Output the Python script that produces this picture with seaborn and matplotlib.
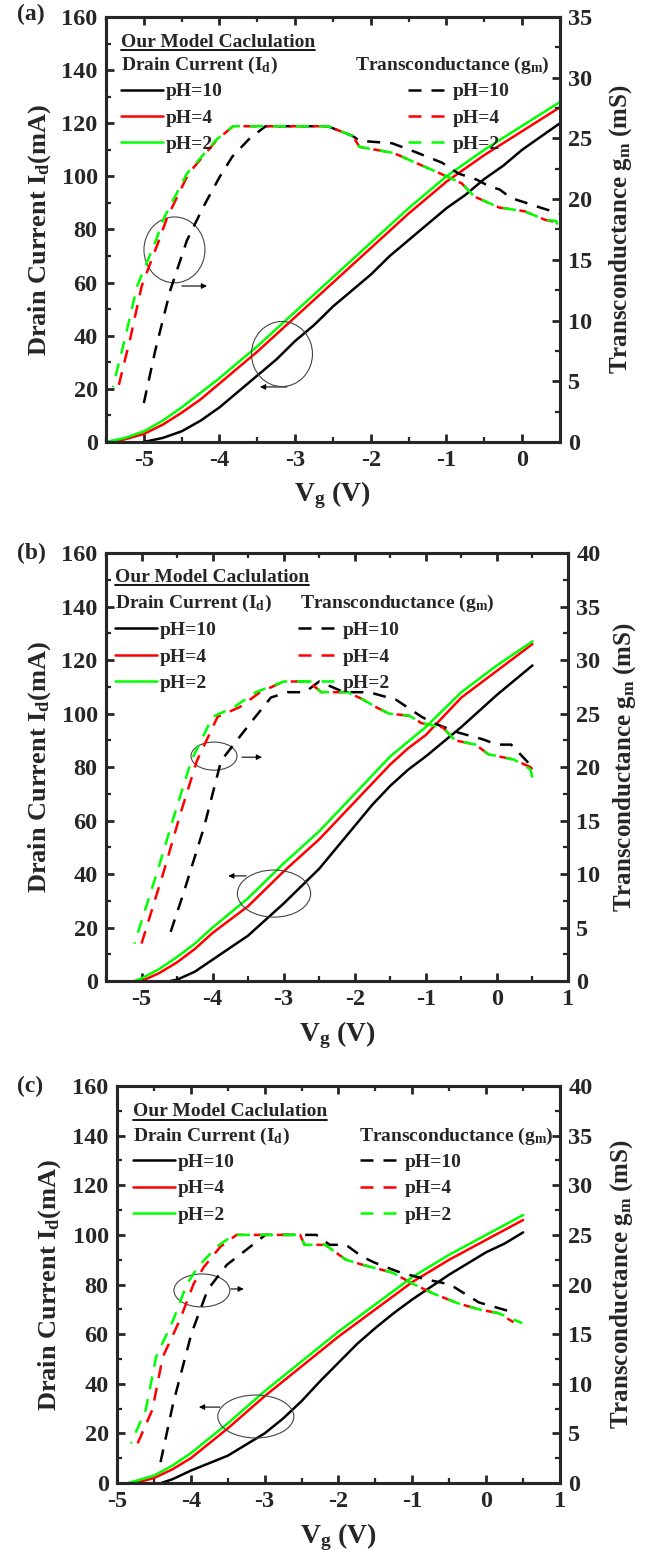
import matplotlib
matplotlib.use("Agg")
import matplotlib.pyplot as plt
import seaborn as sns
from matplotlib.patches import Ellipse
from matplotlib.lines import Line2D

# ---------------- data ----------------
# Panel (a): drain current (mA) vs gate voltage (V)
a_vg_id10 = [-5.0, -4.75, -4.5, -4.25, -4.0, -3.75, -3.5, -3.25, -3.0, -2.75, -2.5, -2.25,
             -2.0, -1.75, -1.5, -1.25, -1.0, -0.75, -0.5, -0.25, 0.0, 0.25, 0.5]
a_id10 = [0, 1.5, 4, 8, 13, 19, 25, 31, 38, 44, 51, 57, 63, 70, 76, 82, 88, 93, 99, 104, 110, 115, 120]
a_vg_id4 = [-5.4, -5.25, -5.0, -4.75, -4.5, -4.25, -4.0, -3.75, -3.5, -3.25, -3.0, -2.75, -2.5,
            -2.25, -2.0, -1.75, -1.5, -1.25, -1.0, -0.75, -0.5, -0.25, 0.0, 0.25, 0.5]
a_id4 = [0, 1, 3, 6.5, 11, 16, 22, 28, 34, 40.5, 47, 53.5, 60, 66.5, 73, 79.5, 86, 92, 98, 103,
         108, 112.5, 117, 121.5, 126]
a_vg_id2 = [-5.5, -5.25, -5.0, -4.75, -4.5, -4.25, -4.0, -3.75, -3.5, -3.25, -3.0, -2.75, -2.5,
            -2.25, -2.0, -1.75, -1.5, -1.25, -1.0, -0.75, -0.5, -0.25, 0.0, 0.25, 0.5]
a_id2 = [0, 1.5, 4, 8, 13, 18.5, 24, 30, 36, 42.5, 49, 55.5, 62, 68.5, 75, 81.5, 88, 94, 100, 105,
         110, 114.5, 119, 123.5, 128]
# Panel (a): transconductance (mS)
a_vg_gm10 = [-5.0, -4.85, -4.65, -4.43, -4.21, -4.0, -3.83, -3.6, -3.39, -3.0, -2.57, -2.24,
             -2.15, -1.72, -1.42, -1.06, -0.84, -0.6, -0.42, -0.3, -0.15, 0.24, 0.5]
a_gm10 = [3.2, 7.5, 12.5, 16.6, 19.4, 21.8, 23.5, 25.0, 26.0, 26.0, 26.0, 25.2, 24.8, 24.6, 23.9,
          23.0, 22.1, 21.6, 21.0, 20.8, 20.1, 19.3, 18.8]
a_vg_gm4 = [-5.33, -5.18, -5.03, -4.8, -4.69, -4.41, -4.03, -3.82, -3.0, -2.57, -2.24, -2.15,
            -1.7, -1.41, -1.08, -0.8, -0.63, -0.3, 0.03, 0.3, 0.45, 0.5]
a_gm4 = [4.7, 8.5, 12.8, 16.6, 18.5, 22.1, 24.9, 26.0, 26.0, 26.0, 25.2, 24.3, 23.8, 23.0, 22.1,
         21.3, 20.2, 19.3, 19.0, 18.3, 18.1, 17.6]
a_vg_gm2 = [-5.41, -5.25, -5.09, -4.84, -4.73, -4.43, -4.04, -3.82, -3.0, -2.57, -2.24, -2.15,
            -1.7, -1.41, -1.08, -0.8, -0.63, -0.3, 0.03, 0.3, 0.45, 0.5]
a_gm2 = [4.5, 8.5, 12.8, 16.6, 18.5, 22.1, 24.9, 26.0, 26.0, 26.0, 25.2, 24.3, 23.8, 23.0, 22.1,
         21.3, 20.2, 19.3, 19.0, 18.3, 18.2, 17.2]

# Panel (b)
b_vg_id10 = [-4.6, -4.5, -4.25, -4.0, -3.75, -3.5, -3.25, -3.0, -2.75, -2.5, -2.25, -2.0, -1.75,
             -1.5, -1.25, -1.0, -0.75, -0.5, -0.25, 0.0, 0.25, 0.5]
b_id10 = [0, 0.5, 3.5, 8, 12.5, 17, 23, 29, 35.5, 42, 50, 58, 66, 73, 79, 84, 89.5, 95, 101, 107,
          112.5, 118]
b_vg_id4 = [-5.0, -4.75, -4.5, -4.25, -4.0, -3.75, -3.5, -3.25, -3.0, -2.75, -2.5, -2.25, -2.0,
            -1.75, -1.5, -1.25, -1.0, -0.75, -0.5, -0.25, 0.0, 0.25, 0.5]
b_id4 = [0, 3, 7, 12, 18, 23, 28, 34.5, 41, 47, 53, 60, 67, 74, 81, 87, 92, 99, 106, 111, 116,
         121, 126]
b_vg_id2 = [-5.1, -5.0, -4.75, -4.5, -4.25, -4.0, -3.75, -3.5, -3.25, -3.0, -2.75, -2.5, -2.25,
            -2.0, -1.75, -1.5, -1.25, -1.0, -0.75, -0.5, -0.25, 0.0, 0.25, 0.5]
b_id2 = [0, 1, 4.5, 9, 14, 20, 25.5, 31, 37.5, 44, 50, 56, 63, 70, 77, 84, 89.5, 95, 101.5, 108,
         113, 118, 122.5, 127]
b_vg_gm10 = [-4.59, -4.41, -4.12, -3.88, -3.47, -3.18, -2.95, -2.7, -2.5, -2.15, -1.8, -1.42,
             -1.06, -0.89, -0.53, -0.2, 0.0, 0.2, 0.5]
b_gm10 = [4.6, 8.2, 14.4, 20.6, 24.1, 26.5, 27.0, 27.0, 28.0, 27.0, 27.0, 26.3, 24.7, 24.1, 23.2,
          22.6, 22.1, 22.1, 20.0]
b_vg_gm4 = [-5.0, -4.68, -4.45, -4.22, -3.93, -3.62, -3.33, -3.0, -2.65, -2.47, -2.1, -1.88,
            -1.7, -1.52, -1.23, -1.06, -0.76, -0.59, -0.3, -0.12, 0.24, 0.47, 0.5]
b_gm4 = [3.5, 10.4, 15.7, 20.6, 24.7, 25.6, 27.0, 28.0, 28.0, 27.0, 27.0, 26.3, 25.6, 25.0, 24.8,
         24.1, 23.7, 22.5, 22.1, 21.2, 20.7, 20.0, 19.8]
b_vg_gm2 = [-5.1, -4.77, -4.53, -4.3, -4.0, -3.7, -3.39, -3.0, -2.65, -2.47, -2.1, -1.88, -1.7,
            -1.52, -1.23, -1.06, -0.76, -0.59, -0.3, -0.12, 0.24, 0.47, 0.5]
b_gm2 = [3.5, 10.4, 15.7, 20.6, 24.7, 25.6, 27.0, 28.0, 28.0, 27.0, 27.0, 26.3, 25.6, 25.0, 24.8,
         24.1, 23.7, 22.5, 22.1, 21.2, 20.7, 19.8, 19.0]

# Panel (c)
c_vg_id10 = [-4.4, -4.25, -4.0, -3.75, -3.5, -3.25, -3.0, -2.75, -2.5, -2.25, -2.0, -1.75, -1.5,
             -1.25, -1.0, -0.75, -0.5, -0.25, 0.0, 0.25, 0.5]
c_id10 = [0, 1.5, 5, 8, 11, 15.5, 20, 26, 33, 41, 48.5, 56, 62.5, 68.5, 74, 79, 84, 88.5, 93,
          96.5, 101]
c_vg_id4 = [-4.75, -4.5, -4.25, -4.0, -3.75, -3.5, -3.25, -3.0, -2.75, -2.5, -2.25, -2.0, -1.75,
            -1.5, -1.25, -1.0, -0.75, -0.5, -0.25, 0.0, 0.25, 0.5]
c_id4 = [0, 2, 5.5, 10, 16, 22, 28.5, 35, 41, 47, 53, 59, 64.5, 70, 75.5, 81, 85.5, 90, 94, 98,
         102, 106]
c_vg_id2 = [-4.85, -4.75, -4.5, -4.25, -4.0, -3.75, -3.5, -3.25, -3.0, -2.75, -2.5, -2.25, -2.0,
            -1.75, -1.5, -1.25, -1.0, -0.75, -0.5, -0.25, 0.0, 0.25, 0.5]
c_id2 = [0, 0.8, 3, 7, 12, 18, 24, 30.5, 37, 43, 49, 55, 61, 66.5, 72, 77.5, 83, 87.5, 92, 96, 100,
         104, 108]
c_vg_gm10 = [-4.41, -4.24, -3.99, -3.77, -3.51, -3.3, -2.99, -2.3, -2.12, -1.9, -1.68, -1.51,
             -1.16, -0.8, -0.49, -0.1, 0.41]
c_gm10 = [2.1, 8.0, 15.1, 19.5, 22.0, 23.2, 25.0, 25.0, 24.0, 24.0, 22.8, 22.2, 21.2, 20.5, 20.0,
          18.2, 17.1]
c_vg_gm4 = [-4.72, -4.52, -4.38, -4.15, -3.96, -3.82, -3.6, -3.38, -2.52, -2.46, -2.18, -1.9,
            -1.68, -1.27, -1.0, -0.72, -0.38, -0.1, 0.17, 0.37]
c_gm4 = [4.0, 7.4, 12.7, 16.4, 20.1, 21.8, 23.8, 25.0, 25.0, 24.0, 24.0, 22.5, 22.0, 21.2, 20.1,
         19.1, 18.1, 17.5, 17.1, 16.2]
c_vg_gm2 = [-4.81, -4.61, -4.47, -4.24, -4.05, -3.9, -3.65, -3.42, -2.52, -2.46, -2.18, -1.9,
            -1.68, -1.27, -1.0, -0.72, -0.38, -0.1, 0.17, 0.49]
c_gm2 = [4.0, 7.4, 12.7, 16.4, 20.1, 21.8, 23.8, 25.0, 25.0, 24.0, 24.0, 22.5, 22.0, 21.2, 20.1,
         19.1, 18.1, 17.5, 17.1, 16.1]

ph_labels = ["pH=10", "pH=4", "pH=2"]
ph_colors = ["#000000", "#ff0000", "#00ff00"]

# ---------------- style ----------------
sns.set_theme(style="ticks")
plt.rcParams["font.family"] = ["Liberation Serif", "DejaVu Serif"]
plt.rcParams["font.weight"] = "bold"
plt.rcParams["axes.labelweight"] = "bold"
plt.rcParams["mathtext.fontset"] = "custom"
plt.rcParams["mathtext.rm"] = "Liberation Serif:bold"
plt.rcParams["mathtext.it"] = "Liberation Serif:bold:italic"
plt.rcParams["mathtext.bf"] = "Liberation Serif:bold"

LW = 1.8
DASH = (5.2, 4.0)
TICK_FS = 17.5
LABEL_FS = 19
RLABEL_FS = 18
XLABEL_FS = 20
LEG_FS = 14

fig = plt.figure(figsize=(6.51, 15.55), dpi=100)


def draw_panel(rect, letter, letter_y, xlim, xticks, gm_max, gm_major,
               id_series, gm_series, ellipses, arrows, leg, ylab_x):
    ax = fig.add_axes(rect)
    ax2 = ax.twinx()

    for (vg, vals), col in zip(id_series, ph_colors):
        sns.lineplot(x=vg, y=vals, ax=ax, color=col, lw=LW, estimator=None, sort=False)
    offsets = [0, 0, 4.6]
    for (vg, vals), col, off in zip(gm_series, ph_colors, offsets):
        sns.lineplot(x=vg, y=vals, ax=ax2, color=col, lw=LW, estimator=None, sort=False,
                     linestyle=(off, DASH))

    ax.set_xlim(*xlim)
    ax.set_ylim(0, 160)
    ax2.set_ylim(0, gm_max)
    ax.set_xticks(xticks)
    ax.set_xticks([t + 0.5 for t in xticks if t + 0.5 < xlim[1]] +
                  ([xlim[0]] if xlim[0] % 1 else []), minor=True)
    ax.set_yticks(range(0, 161, 20))
    ax.set_yticks(range(10, 160, 20), minor=True)
    ax2.set_yticks([v for v in range(0, gm_max + 1, gm_major)])
    ax2.set_yticks([v + gm_major / 2 for v in range(0, gm_max, gm_major)], minor=True)

    for a in (ax, ax2):
        for sp in a.spines.values():
            sp.set_linewidth(2.2)
            sp.set_visible(True)
    ax.tick_params(axis="both", which="major", direction="in", length=6, width=2,
                   labelsize=TICK_FS, pad=6, top=True, right=False)
    ax.tick_params(axis="both", which="minor", direction="in", length=3.5, width=1.6,
                   top=True, right=False)
    ax2.tick_params(axis="y", which="major", direction="in", length=6, width=2,
                    labelsize=TICK_FS, pad=6)
    ax2.tick_params(axis="y", which="minor", direction="in", length=3.5, width=1.6)
    ax.set_xticklabels([f"{t:g}" for t in xticks])
    for lbl in ax.get_xticklabels() + ax.get_yticklabels() + ax2.get_yticklabels():
        lbl.set_fontweight("bold")

    ax.set_xlabel(r"V$_\mathrm{g}$ (V)", fontsize=XLABEL_FS, fontweight="bold")
    ax.set_ylabel(r"Drain Current I$_\mathrm{d}$(mA)", fontsize=LABEL_FS, fontweight="bold")
    ax2.set_ylabel(r"Transconductance g$_\mathrm{m}$ (mS)", fontsize=RLABEL_FS,
                   fontweight="bold")
    ax.xaxis.set_label_coords(0.5, ylab_x[2])
    ax.xaxis.label.set_va("center")
    ax.yaxis.set_label_coords(ylab_x[0], 0.5)
    ax.yaxis.label.set_va("center")
    ax2.yaxis.set_label_coords(ylab_x[1], 0.5)
    ax2.yaxis.label.set_va("center")
    ax2.yaxis.label.set_rotation(90)

    # circled groups with arrows pointing at their axis
    for (cx, cy, w, h) in ellipses:
        ax.add_patch(Ellipse((cx, cy), w, h, fill=False, ec="#444444", lw=0.8, zorder=5))
    for (x0, x1, y) in arrows:
        ax.annotate("", xy=(x1, y), xytext=(x0, y),
                    arrowprops=dict(arrowstyle="-|>", color="black", lw=0.8,
                                    mutation_scale=8, shrinkA=0, shrinkB=0))

    # legend block
    tx, ty, dy, rx, lpos, rpos = leg
    title = ax2.text(tx, ty, "Our Model Caclulation", transform=ax.transAxes,
                     fontsize=LEG_FS, fontweight="bold", ha="left", va="center")
    ax2.text(tx, dy, r"Drain Current (I$_\mathrm{d}$)", transform=ax.transAxes,
             fontsize=LEG_FS, fontweight="bold", ha="left", va="center")
    ax2.text(rx[0], dy, r"Transconductance (g$_\mathrm{m}$)", transform=ax.transAxes,
             fontsize=LEG_FS, fontweight="bold", ha=rx[1], va="center")
    solid = [Line2D([], [], color=c, lw=LW) for c in ph_colors]
    dashed = [Line2D([], [], color=c, lw=LW, linestyle=(0, DASH)) for c in ph_colors]
    common = dict(frameon=False, handlelength=2.15, handletextpad=0.15,
                  labelspacing=0.45, borderpad=0, borderaxespad=0, loc="upper left",
                  prop={"weight": "bold", "size": LEG_FS})
    l1 = ax2.legend(solid, ph_labels, bbox_to_anchor=lpos, **common)
    ax2.add_artist(l1)
    ax2.legend(dashed, ph_labels, bbox_to_anchor=rpos, **common)

    fig.text(0.026, letter_y, letter, fontsize=17, fontweight="bold", ha="left", va="center")
    return ax, ax2, title


panels = []
panels.append(draw_panel(
    [0.1628, 0.7158, 0.6974, 0.2733], "(a)", 0.9904, (-5.5, 0.5), [-5, -4, -3, -2, -1, 0], 35, 5,
    [(a_vg_id10, a_id10), (a_vg_id4, a_id4), (a_vg_id2, a_id2)],
    [(a_vg_gm10, a_gm10), (a_vg_gm4, a_gm4), (a_vg_gm2, a_gm2)],
    [(-4.595, 72.3, 0.806, 24.8), (-3.174, 33.1, 0.806, 24.5)],
    [(-4.496, -4.165, 58.7), (-3.108, -3.465, 20.7)],
    (0.033, 0.941, 0.887, (0.978, "right"), (0.033, 0.845), (0.665, 0.845)),
    (-0.146, 1.134, -0.125)))
panels.append(draw_panel(
    [0.1628, 0.3691, 0.7097, 0.2752], "(b)", 0.6444, (-5.5, 1.0), [-5, -4, -3, -2, -1, 0, 1], 40, 5,
    [(b_vg_id10, b_id10), (b_vg_id4, b_id4), (b_vg_id2, b_id2)],
    [(b_vg_gm10, b_gm10), (b_vg_gm4, b_gm4), (b_vg_gm2, b_gm2)],
    [(-3.98, 84.1, 0.647, 10.5), (-3.136, 32.7, 1.03, 17.6)],
    [(-3.587, -3.305, 83.7), (-3.53, -3.78, 39.3)],
    (0.0195, 0.944, 0.883, (0.42, "left"), (0.0195, 0.840), (0.4156, 0.840)),
    (-0.143, 1.123, -0.126)))
panels.append(draw_panel(
    [0.1797, 0.0463, 0.6805, 0.2553], "(c)", 0.301, (-5.0, 1.0), [-5, -4, -3, -2, -1, 0, 1], 40, 5,
    [(c_vg_id10, c_id10), (c_vg_id4, c_id4), (c_vg_id2, c_id2)],
    [(c_vg_gm10, c_gm10), (c_vg_gm4, c_gm4), (c_vg_gm2, c_gm2)],
    [(-3.85, 77.6, 0.757, 13.3), (-3.12, 26.8, 1.03, 17.3)],
    [(-3.458, -3.283, 78.2), (-3.607, -3.89, 30.6)],
    (0.036, 0.935, 0.872, (0.986, "right"), (0.036, 0.830), (0.549, 0.830)),
    (-0.153, 1.138, -0.136)))

# underline the legend titles
fig.canvas.draw()
renderer = fig.canvas.get_renderer()
inv = fig.transFigure.inverted()
for ax, ax2, title in panels:
    bb = title.get_window_extent(renderer=renderer)
    (x0, y0), (x1, _) = inv.transform([(bb.x0, bb.y0), (bb.x1, bb.y0)])
    fig.add_artist(Line2D([x0, x1], [y0 + 0.0004, y0 + 0.0004], color="black", lw=1.3,
                          transform=fig.transFigure))

fig.savefig("out.png", dpi=100, facecolor="white")
